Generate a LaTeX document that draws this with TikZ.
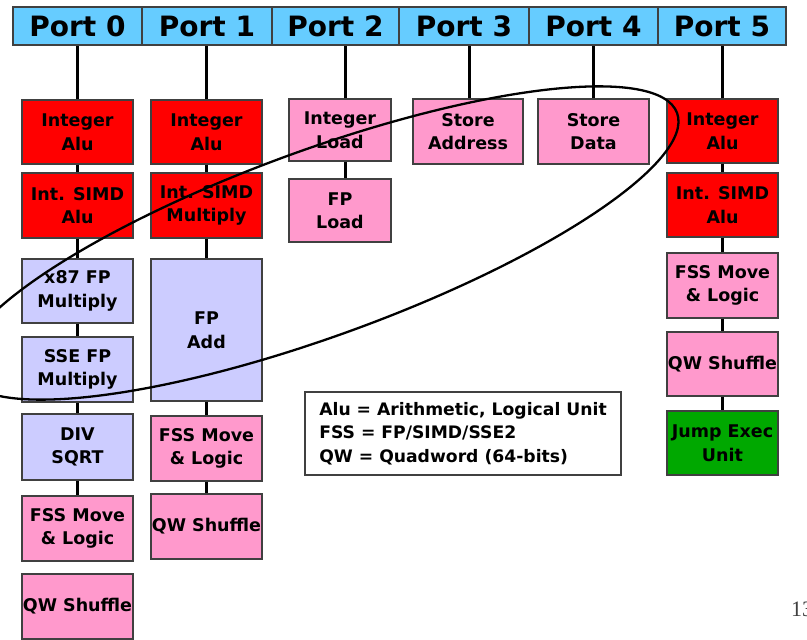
\documentclass[tikz,border=0pt]{standalone}
\usepackage{fontspec}
\setmainfont{DejaVu Sans}
\newfontfamily\pagefont{Liberation Serif}
\definecolor{headerblue}{HTML}{66CCFF}
\definecolor{boxedge}{HTML}{404040}
\definecolor{alured}{HTML}{FF0000}
\definecolor{unitpink}{HTML}{FF99CC}
\definecolor{fplav}{HTML}{CCCCFF}
\definecolor{jumpgreen}{HTML}{00A800}
\begin{document}
\begin{tikzpicture}[x=1pt,y=1pt,
  unit/.style={draw=boxedge, line width=1.3pt, inner sep=0pt, align=center,
    font=\fontsize{17.5}{23.5}\selectfont\bfseries},
  sz/.style 2 args={minimum width=#1pt, minimum height=#2pt},
  redu/.style={unit, fill=alured},
  pinku/.style={unit, fill=unitpink},
  lavu/.style={unit, fill=fplav},
  greenu/.style={unit, fill=jumpgreen},
  portcell/.style={draw=boxedge, line width=1.2pt, fill=headerblue, inner sep=0pt,
    minimum height=38pt, font=\fontsize{28}{30}\selectfont\bfseries},
  conn/.style={line width=3pt, black},
  ring/.style={line width=2.3pt, black}
]
\useasboundingbox (0,0) rectangle (807,-640);

% port header row
\node[portcell, minimum width=129pt] (port0) at (77.5,-26) {Port 0};
\node[portcell, minimum width=130pt] (port1) at (207,-26) {Port 1};
\node[portcell, minimum width=127pt] (port2) at (335.5,-26) {Port 2};
\node[portcell, minimum width=130pt] (port3) at (464,-26) {Port 3};
\node[portcell, minimum width=129pt] (port4) at (593.5,-26) {Port 4};
\node[portcell, minimum width=128pt] (port5) at (722,-26) {Port 5};

% port 0 units
\node[redu, sz={111}{64}] (p0a) at (77.5,-132) {Integer\\Alu};
\node[redu, sz={111}{65}] (p0b) at (77.5,-205.5) {Int. SIMD\\Alu};
\node[lavu, sz={111}{64}] (p0c) at (77.5,-291) {x87 FP\\Multiply};
\node[lavu, sz={111}{65}] (p0d) at (77.5,-369.5) {SSE FP\\Multiply};
\node[lavu, sz={111}{66}] (p0e) at (77.5,-447) {DIV\\SQRT};
\node[pinku, sz={111}{65}] (p0f) at (77.5,-528.5) {FSS Move\\\& Logic};
\node[pinku, sz={111}{65}] (p0g) at (77.5,-606.5) {QW Shuffle};

% port 1 units
\node[redu, sz={111}{64}] (p1a) at (206.5,-132) {Integer\\Alu};
\node[redu, sz={111}{65}] (p1b) at (206.5,-205.5) {Int. SIMD\\Multiply};
\node[lavu, sz={111}{142}] (p1c) at (206.5,-330) {FP\\Add};
\node[pinku, sz={111}{65}] (p1d) at (206.5,-448.5) {FSS Move\\\& Logic};
\node[pinku, sz={111}{65}] (p1e) at (206.5,-526.5) {QW Shuffle};

% port 2 units
\node[pinku, sz={102}{62}] (p2a) at (340,-130) {Integer\\Load};
\node[pinku, sz={102}{63}] (p2b) at (340,-210.5) {FP\\Load};

% port 3 and port 4 units
\node[pinku, sz={110}{65}] (p3a) at (468,-131.5) {Store\\Address};
\node[pinku, sz={111}{65}] (p4a) at (593.5,-131.5) {Store\\Data};

% port 5 units
\node[redu, sz={111}{64}] (p5a) at (722.5,-131) {Integer\\Alu};
\node[redu, sz={111}{64}] (p5b) at (722.5,-205) {Int. SIMD\\Alu};
\node[pinku, sz={111}{65}] (p5c) at (722.5,-285.5) {FSS Move\\\& Logic};
\node[pinku, sz={111}{64}] (p5d) at (722.5,-364) {QW Shuffle};
\node[greenu, sz={111}{64}] (p5e) at (722.5,-443) {Jump Exec\\Unit};

% port to first unit
\draw[conn] (p0a.north) -- (p0a.north |- port0.south);
\draw[conn] (p1a.north) -- (p1a.north |- port1.south);
\draw[conn] ([xshift=5pt]p2a.north) -- ([xshift=5pt]p2a.north |- port2.south);
\draw[conn] ([xshift=1pt]p3a.north) -- ([xshift=1pt]p3a.north |- port3.south);
\draw[conn] (p4a.north) -- (p4a.north |- port4.south);
\draw[conn] (p5a.north) -- (p5a.north |- port5.south);

% links between stacked units
\draw[conn] (p0a.south) -- (p0b.north);
\draw[conn] (p0b.south) -- (p0c.north);
\draw[conn] (p0c.south) -- (p0d.north);
\draw[conn] (p0d.south) -- (p0e.north);
\draw[conn] (p0e.south) -- (p0f.north);
\draw[conn] (p1a.south) -- (p1b.north);
\draw[conn] (p1b.south) -- (p1c.north);
\draw[conn] (p1c.south) -- (p1d.north);
\draw[conn] (p1d.south) -- (p1e.north);
\draw[conn] ([xshift=5pt]p2a.south) -- ([xshift=5pt]p2b.north);
\draw[conn] (p5a.south) -- (p5b.north);
\draw[conn] (p5b.south) -- (p5c.north);
\draw[conn] (p5c.south) -- (p5d.north);
\draw[conn] (p5d.south) -- (p5e.north);

% abbreviation key
\node[draw=boxedge, line width=1.2pt, fill=white, minimum width=316pt, minimum height=83pt,
  inner sep=0pt, align=left, font=\fontsize{17.2}{23.5}\selectfont\bfseries] (key) at (463,-433.5)
  {Alu = Arithmetic, Logical Unit\\FSS = FP/SIMD/SSE2\\QW = Quadword (64-bits)};

% ring around the load/store and FP multiply/add group
\draw[ring, rotate around={20:(320,-243)}] (320,-243) ellipse [x radius=380pt, y radius=93pt];

% slide number
\node[anchor=base west, inner sep=0pt, text=black!75, font=\pagefont\fontsize{22}{22}\selectfont] (pgno) at (791,-616) {13};
\end{tikzpicture}
\end{document}
